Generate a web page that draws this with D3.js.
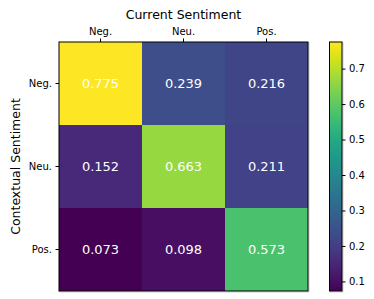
<!DOCTYPE html>
<html>
<head>
<meta charset="utf-8">
<script src="https://cdn.jsdelivr.net/npm/d3@7"></script>
<style>
  body { margin: 0; background: #fff; }
  text { font-family: "DejaVu Sans", sans-serif; }
</style>
</head>
<body>
<div id="chart"></div>
<script>
// Sentiment transition matrix
const currentLabels = ["Neg.", "Neu.", "Pos."];
const contextLabels = ["Neg.", "Neu.", "Pos."];
const rowNeg = [0.775, 0.239, 0.216];
const rowNeu = [0.152, 0.663, 0.211];
const rowPos = [0.073, 0.098, 0.573];
const colorbarTicks = [0.1, 0.2, 0.3, 0.4, 0.5, 0.6, 0.7];

const matrix = [rowNeg, rowNeu, rowPos];
const cells = [];
matrix.forEach((row, i) => row.forEach((v, j) => cells.push({ row: contextLabels[i], col: currentLabels[j], value: v })));

const W = 374, H = 299;
const margin = { top: 42, left: 59 };
const size = 249;

const svg = d3.select("#chart").append("svg")
  .attr("width", W)
  .attr("height", H);

const x = d3.scaleBand().domain(currentLabels).range([margin.left, margin.left + size]);
const y = d3.scaleBand().domain(contextLabels).range([margin.top, margin.top + size]);

const vmin = d3.min(cells, d => d.value), vmax = d3.max(cells, d => d.value);
const color = d3.scaleSequential(d3.interpolateViridis).domain([vmin, vmax]);

// faint shadow edge
svg.append("rect")
  .attr("x", margin.left + 1).attr("y", margin.top + 1)
  .attr("width", size).attr("height", size)
  .attr("fill", "none").attr("stroke", "#ccc").attr("stroke-width", 1);

// Cells
svg.selectAll(".cell")
  .data(cells)
  .enter()
  .append("rect")
  .attr("class", "cell")
  .attr("x", d => x(d.col))
  .attr("y", d => y(d.row))
  .attr("width", x.bandwidth())
  .attr("height", y.bandwidth())
  .attr("fill", d => color(d.value));

svg.selectAll(".val")
  .data(cells)
  .enter()
  .append("text")
  .attr("class", "val")
  .attr("x", d => x(d.col) + x.bandwidth() / 2)
  .attr("y", d => y(d.row) + y.bandwidth() / 2)
  .attr("dy", "0.36em")
  .attr("text-anchor", "middle")
  .attr("fill", "#fff")
  .attr("font-size", 13)
  .text(d => d.value.toFixed(3));

svg.append("rect")
  .attr("x", margin.left).attr("y", margin.top)
  .attr("width", size).attr("height", size)
  .attr("fill", "none").attr("stroke", "#000").attr("stroke-width", 1);

// Axes
const xAxis = svg.append("g")
  .attr("transform", `translate(0,${margin.top})`)
  .call(d3.axisTop(x).tickSize(3.5).tickPadding(3.5));
const yAxis = svg.append("g")
  .attr("transform", `translate(${margin.left},0)`)
  .call(d3.axisLeft(y).tickSize(3.5).tickPadding(3.5));
[xAxis, yAxis].forEach(g => {
  g.select(".domain").remove();
  g.selectAll("text").attr("font-size", 10).attr("fill", "#000").attr("font-family", "DejaVu Sans");
  g.selectAll("line").attr("stroke", "#000");
});

svg.append("text")
  .attr("x", margin.left + size / 2)
  .attr("y", 19)
  .attr("text-anchor", "middle")
  .attr("font-size", 12.5)
  .text("Current Sentiment");

svg.append("text")
  .attr("transform", `translate(20,${margin.top + size / 2}) rotate(-90)`)
  .attr("text-anchor", "middle")
  .attr("font-size", 12.5)
  .text("Contextual Sentiment");

// Colorbar
const cbX = 329.5, cbW = 12.5;
const cbY = d3.scaleLinear().domain([vmin, vmax]).range([margin.top + size, margin.top]);
const defs = svg.append("defs");
const grad = defs.append("linearGradient").attr("id", "cbgrad")
  .attr("x1", 0).attr("y1", 1).attr("x2", 0).attr("y2", 0);
d3.range(0, 1.0001, 0.05).forEach(t => {
  grad.append("stop").attr("offset", t).attr("stop-color", d3.interpolateViridis(t));
});
svg.append("rect")
  .attr("x", cbX + 1).attr("y", margin.top + 1)
  .attr("width", cbW).attr("height", size)
  .attr("fill", "none").attr("stroke", "#ccc");
svg.append("rect")
  .attr("x", cbX).attr("y", margin.top)
  .attr("width", cbW).attr("height", size)
  .attr("fill", "url(#cbgrad)")
  .attr("stroke", "#000").attr("stroke-width", 1);

const cbAxis = svg.append("g")
  .attr("transform", `translate(${cbX + cbW},0)`)
  .call(d3.axisRight(cbY).tickValues(colorbarTicks).tickFormat(d3.format(".1f")).tickSize(3.5).tickPadding(3.5));
cbAxis.select(".domain").remove();
cbAxis.selectAll("text").attr("font-size", 10).attr("fill", "#000").attr("font-family", "DejaVu Sans");
cbAxis.selectAll("line").attr("stroke", "#000");
</script>
</body>
</html>
